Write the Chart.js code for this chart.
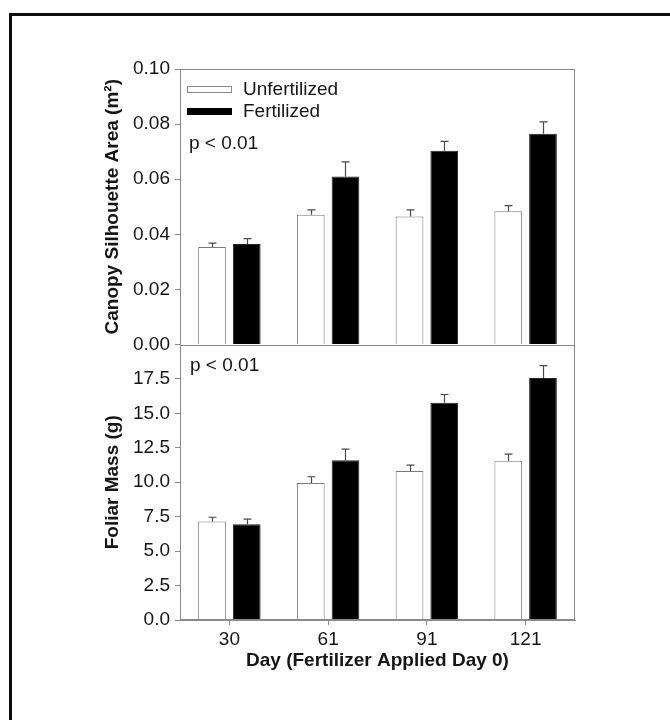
<!DOCTYPE html>
<html>
<head>
<meta charset="utf-8">
<title>Canopy silhouette area and foliar mass</title>
<script src="https://cdn.jsdelivr.net/npm/chart.js@4"></script>
<style>
  html, body { margin: 0; padding: 0; background: #fff; }
  #wrap { width: 670px; height: 720px; position: relative; }
</style>
</head>
<body>
<div id="wrap"><canvas id="c" width="670" height="720"></canvas></div>
<script>
// Sampling days (x categories)
const days = ['30', '61', '91', '121'];
const seriesNames = ['Unfertilized', 'Fertilized'];

// Canopy silhouette area (m²): means and standard errors
const areaUnfert    = [0.0354, 0.0471, 0.0465, 0.0484];
const areaUnfertErr = [0.0014, 0.0018, 0.0024, 0.0020];
const areaFert      = [0.0365, 0.0610, 0.0703, 0.0765];
const areaFertErr   = [0.0019, 0.0053, 0.0034, 0.0043];

// Foliar mass (g): means and standard errors
const massUnfert    = [7.15, 9.94, 10.81, 11.56];
const massUnfertErr = [0.31, 0.46, 0.43, 0.48];
const massFert      = [6.96, 11.60, 15.77, 17.57];
const massFertErr   = [0.36, 0.80, 0.60, 0.90];

// Tick values for each panel
const areaTicks = [0, 0.02, 0.04, 0.06, 0.08, 0.10];
const massTicks = [0, 2.5, 5, 7.5, 10, 12.5, 15, 17.5];

const pNote = 'p < 0.01';

const FONT = "Arial, 'Liberation Sans', sans-serif";
const TEXT = '#151515';
const AXIS = '#8a8a8a';
Chart.defaults.font.family = FONT;
Chart.defaults.color = TEXT;

const WHITE_BAR = { backgroundColor: '#ffffff', borderColor: '#7a7a7a', borderWidth: 1 };
const BLACK_BAR = { backgroundColor: '#000000', borderColor: '#222222', borderWidth: 1 };

function yScale(ticksArr, max, digits, title) {
  return {
    type: 'linear',
    position: 'left',
    stack: 'panels',
    stackWeight: 1,
    stacked: false,
    min: 0,
    max: max,
    afterBuildTicks: s => { s.ticks = ticksArr.map(v => ({ value: v })); },
    afterFit: s => { s.width = 83; },
    grid: { drawOnChartArea: false, drawTicks: true, tickLength: 5, tickColor: AXIS },
    border: { color: AXIS, width: 1 },
    ticks: {
      autoSkip: false,
      padding: 5,
      color: TEXT,
      font: { size: 19 },
      callback: v => Number(v).toFixed(digits)
    },
    title: {
      display: true,
      text: title,
      color: TEXT,
      font: { size: 19, weight: 'bold' },
      padding: { top: 4, bottom: 4 }
    }
  };
}

// Error whiskers, frame, legend and notes
const decor = {
  id: 'decor',
  beforeDraw(chart) {
    const ctx = chart.ctx;
    ctx.save();
    ctx.fillStyle = '#ffffff';
    ctx.fillRect(0, 0, chart.width, chart.height);
    // outer figure frame
    ctx.fillStyle = '#0d0d0d';
    ctx.fillRect(9, 13, chart.width - 9, 3);
    ctx.fillRect(9, 13, 3, chart.height - 13);
    ctx.restore();
  },
  afterDatasetsDraw(chart) {
    const ctx = chart.ctx;
    ctx.save();
    ctx.strokeStyle = '#4a4a4a';
    ctx.lineWidth = 1.2;
    chart.data.datasets.forEach((ds, i) => {
      const meta = chart.getDatasetMeta(i);
      const ys = chart.scales[ds.yAxisID];
      meta.data.forEach((bar, j) => {
        const top = ys.getPixelForValue(ds.data[j] + ds.errors[j]);
        const x = Math.round(bar.x) + 0.5;
        ctx.beginPath();
        ctx.moveTo(x, bar.y);
        ctx.lineTo(x, top);
        ctx.moveTo(x - 4, top);
        ctx.lineTo(x + 4, top);
        ctx.stroke();
      });
    });
    ctx.restore();
  },
  afterDraw(chart) {
    const ctx = chart.ctx;
    const ca = chart.chartArea;
    const yA = chart.scales.yArea;
    const yM = chart.scales.yMass;
    ctx.save();
    // panel frames
    ctx.strokeStyle = AXIS;
    ctx.lineWidth = 1;
    const L = Math.round(ca.left) + 0.5, R = Math.round(ca.right) - 0.5;
    const T = Math.round(ca.top) + 0.5, B = Math.round(ca.bottom) - 0.5;
    ctx.strokeRect(L, T, R - L, B - T);
    const mid = Math.round(yA.getPixelForValue(0)) + 0.5;
    ctx.beginPath();
    ctx.moveTo(L, mid);
    ctx.lineTo(R, mid);
    ctx.stroke();

    // legend
    ctx.font = '19px ' + FONT;
    ctx.textBaseline = 'middle';
    ctx.textAlign = 'left';
    ctx.fillStyle = '#ffffff';
    ctx.fillRect(ca.left + 7, ca.top + 17, 45, 7);
    ctx.strokeStyle = '#8a8a8a';
    ctx.strokeRect(ca.left + 7.5, ca.top + 17.5, 44, 6);
    ctx.fillStyle = '#000000';
    ctx.fillRect(ca.left + 7, ca.top + 39, 45, 7);
    ctx.fillStyle = TEXT;
    ctx.fillText(chart.data.datasets[0].label, ca.left + 63, ca.top + 21);
    ctx.fillText(chart.data.datasets[1].label, ca.left + 63, ca.top + 43);

    // significance notes
    ctx.fillText(pNote, ca.left + 9, ca.top + 75);
    ctx.fillText(pNote, ca.left + 10, yM.top + 21);
    ctx.restore();
  }
};

new Chart(document.getElementById('c'), {
  type: 'bar',
  data: {
    labels: days,
    datasets: [
      Object.assign({ label: seriesNames[0], data: areaUnfert, errors: areaUnfertErr, yAxisID: 'yArea', stack: 'U' }, WHITE_BAR),
      Object.assign({ label: seriesNames[1], data: areaFert, errors: areaFertErr, yAxisID: 'yArea', stack: 'F' }, BLACK_BAR),
      Object.assign({ label: seriesNames[0], data: massUnfert, errors: massUnfertErr, yAxisID: 'yMass', stack: 'U' }, WHITE_BAR),
      Object.assign({ label: seriesNames[1], data: massFert, errors: massFertErr, yAxisID: 'yMass', stack: 'F' }, BLACK_BAR)
    ]
  },
  options: {
    responsive: false,
    animation: false,
    devicePixelRatio: 1,
    categoryPercentage: 0.703,
    barPercentage: 0.798,
    layout: { padding: { left: 97, right: 95, top: 69, bottom: 44 } },
    plugins: { legend: { display: false }, tooltip: { enabled: false } },
    scales: {
      x: {
        type: 'category',
        position: 'bottom',
        offset: true,
        afterFit: s => { s.height = 56; },
        grid: { offset: false, drawOnChartArea: false, drawTicks: true, tickLength: 5, tickColor: AXIS },
        border: { color: AXIS, width: 1 },
        ticks: { padding: 3, color: TEXT, font: { size: 19 } },
        title: {
          display: true,
          text: 'Day (Fertilizer Applied Day 0)',
          color: TEXT,
          font: { size: 19, weight: 'bold' },
          padding: { top: 4, bottom: 4 }
        }
      },
      yMass: yScale(massTicks, 20, 1, 'Foliar Mass (g)'),
      yArea: yScale(areaTicks, 0.10, 2, 'Canopy Silhouette Area (m²)')
    }
  },
  plugins: [decor]
});
</script>
</body>
</html>
